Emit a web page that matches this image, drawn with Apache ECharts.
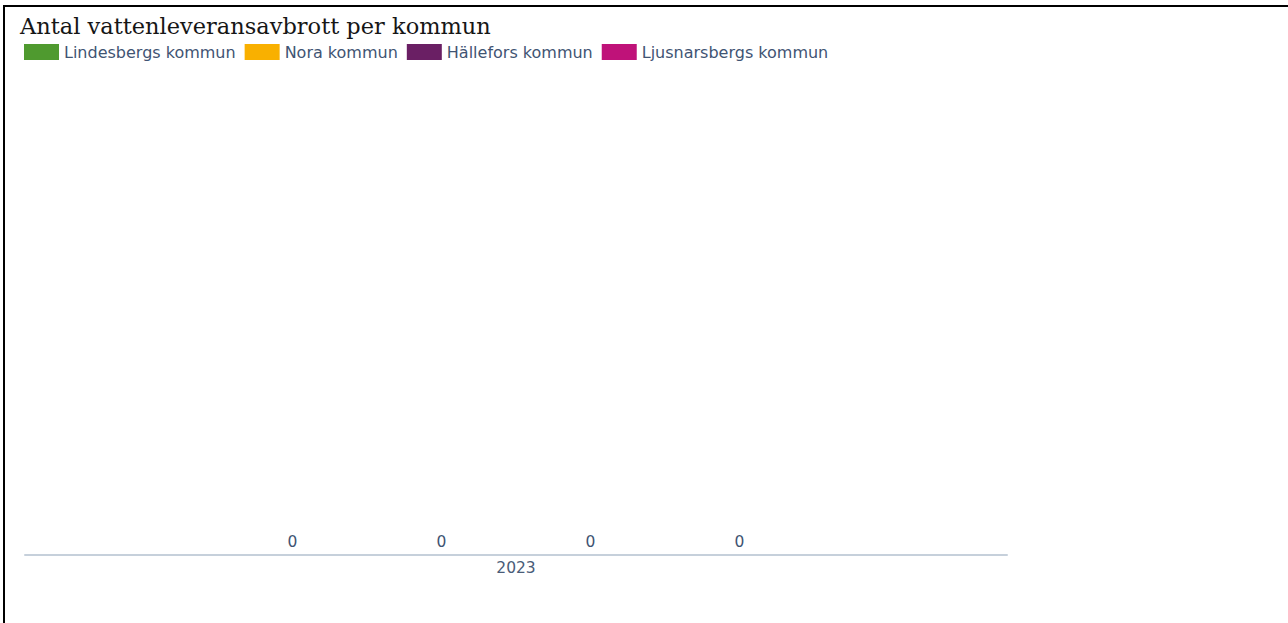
<!DOCTYPE html>
<html>
<head>
<meta charset="utf-8">
<script src="https://cdn.jsdelivr.net/npm/echarts@6/dist/echarts.min.js"></script>
<style>
html,body{margin:0;padding:0;background:#fff;}
#frame{position:absolute;left:3px;top:5px;width:1285px;height:618px;border-top:2px solid #000;border-left:2px solid #000;box-sizing:border-box;}
#chart{position:absolute;left:0;top:0;width:1288px;height:623px;}
</style>
</head>
<body>
<div id="frame"></div>
<div id="chart"></div>
<script>
const titleText = 'Antal vattenleveransavbrott per kommun';
const categories = ['2023'];
const seriesNames = ['Lindesbergs kommun', 'Nora kommun', 'Hällefors kommun', 'Ljusnarsbergs kommun'];
const seriesColors = ['#4f9a2f', '#f9b000', '#6a1f64', '#bf1279'];
const lindesbergs = [0];
const nora = [0];
const hallefors = [0];
const ljusnarsbergs = [0];
const seriesValues = [lindesbergs, nora, hallefors, ljusnarsbergs];

const textColor = '#3f5473';
const chart = echarts.init(document.getElementById('chart'), null, {renderer: 'svg'});
chart.setOption({
  animation: false,
  title: {
    text: titleText,
    left: 15, top: 9,
    textStyle: {fontFamily: 'DejaVu Serif', fontSize: 22.5, fontWeight: 'normal', color: '#161616'}
  },
  legend: {
    left: 24, top: 44, padding: 0,
    itemWidth: 35, itemHeight: 16, itemGap: 9,
    icon: 'rect',
    textStyle: {fontFamily: 'DejaVu Sans', fontSize: 16, color: textColor},
    data: seriesNames
  },
  grid: {left: 25, right: 281, top: 90, bottom: 68},
  xAxis: {
    type: 'category',
    data: categories,
    axisLine: {lineStyle: {color: '#c6d0db', width: 2}},
    axisTick: {show: false},
    axisLabel: {fontFamily: 'DejaVu Sans', fontSize: 15.5, color: '#4a5c78', margin: 5}
  },
  yAxis: {type: 'value', show: false, min: 0, max: 1, splitLine: {show: false}},
  series: seriesNames.map((n, i) => ({
    name: n, type: 'bar', data: seriesValues[i],
    itemStyle: {color: seriesColors[i]},
    barWidth: 100, barGap: '49%',
    label: {show: true, position: 'top', distance: 5, fontFamily: 'DejaVu Sans', fontSize: 15.5, color: textColor}
  }))
});
</script>
</body>
</html>
